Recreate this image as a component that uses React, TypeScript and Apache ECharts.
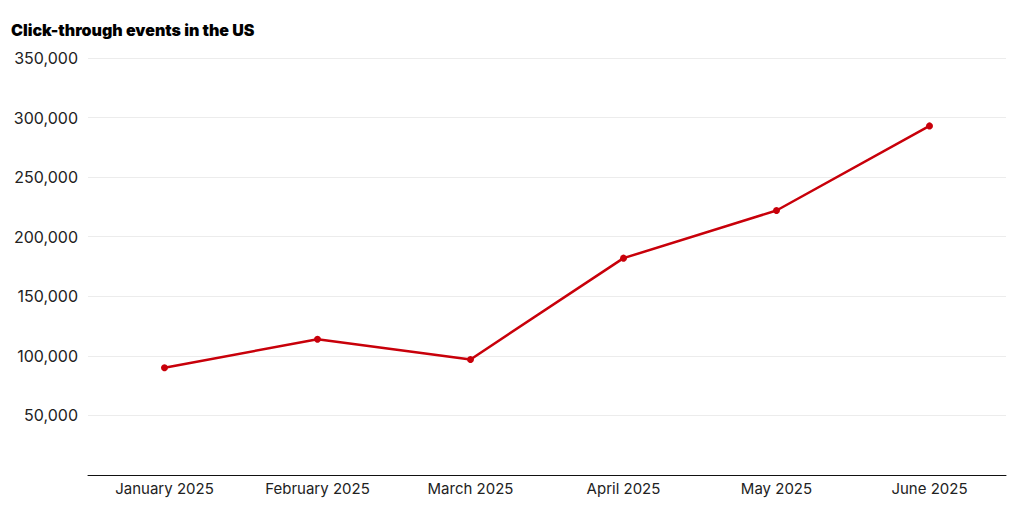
import { useEffect, useRef } from 'react';
import * as echarts from 'echarts';

const months = ['January 2025', 'February 2025', 'March 2025', 'April 2025', 'May 2025', 'June 2025'];
const clickThroughs = [90000, 114000, 97000, 182000, 222000, 293000];
const yTicks = { min: 0, max: 350000, interval: 50000 };

export default function App() {
    const chartRef = useRef<HTMLDivElement>(null);

    useEffect(() => {
        if (!chartRef.current) return;
        const chart = echarts.init(chartRef.current, undefined, { renderer: 'svg' });

        const font = 'Inter, "Noto Sans", sans-serif';

        chart.setOption({
            animation: false,
            backgroundColor: '#fff',
            title: {
                text: 'Click-through events in the US',
                left: 11,
                top: 22,
                padding: 0,
                textStyle: {
                    fontFamily: font,
                    fontSize: 16,
                    fontWeight: 900,
                    color: '#000',
                },
            },
            grid: {
                left: 88,
                right: 14,
                top: 58,
                bottom: 34,
                containLabel: false,
            },
            xAxis: {
                type: 'category',
                data: months,
                boundaryGap: true,
                axisLine: { lineStyle: { color: '#111', width: 1 } },
                axisTick: { show: false },
                axisLabel: {
                    fontFamily: font,
                    fontSize: 15,
                    color: '#222',
                    margin: 6,
                },
            },
            yAxis: {
                type: 'value',
                min: yTicks.min,
                max: yTicks.max,
                interval: yTicks.interval,
                axisLine: { show: false },
                axisTick: { show: false },
                splitLine: { lineStyle: { color: '#ececec', width: 1 } },
                axisLabel: {
                    fontFamily: font,
                    fontSize: 16,
                    color: '#222',
                    margin: 10,
                    formatter: (v: number) => (v === 0 ? '' : v.toLocaleString('en-US')),
                },
            },
            series: [{
                name: 'Click-through events',
                type: 'line',
                data: clickThroughs,
                symbol: 'circle',
                symbolSize: 7,
                itemStyle: { color: '#c8000a' },
                lineStyle: { color: '#c8000a', width: 2.5 },
            }],
        });

        return () => {
            chart.dispose();
        };
    }, []);

    return (
        <div
            ref={chartRef}
            style={{ position: 'fixed', left: 0, top: 0, width: '1020px', height: '509px' }}
        />
    );
}
